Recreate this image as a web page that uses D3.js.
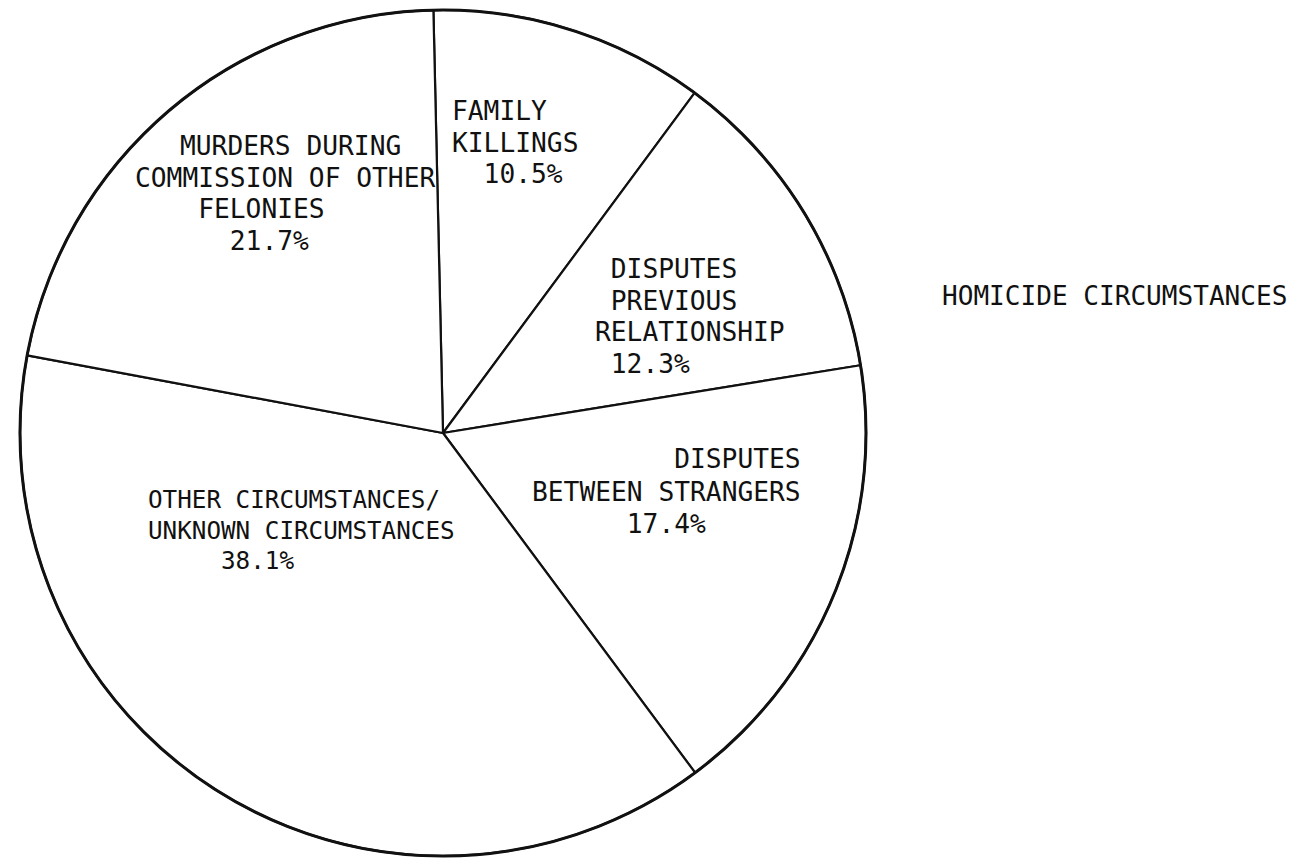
<!DOCTYPE html>
<html>
<head>
<meta charset="utf-8">
<script src="https://cdn.jsdelivr.net/npm/d3@7/dist/d3.min.js"></script>
<style>
    html, body { margin: 0; padding: 0; background: #fff; }
    #chart text { font-family: "DejaVu Sans Mono", "Liberation Mono", monospace; fill: #111; }
</style>
</head>
<body>
<div id="chart"></div>
<script>
// slices, clockwise from the top
var categories = [
    "FAMILY KILLINGS",
    "DISPUTES PREVIOUS RELATIONSHIP",
    "DISPUTES BETWEEN STRANGERS",
    "OTHER CIRCUMSTANCES/UNKNOWN CIRCUMSTANCES",
    "MURDERS DURING COMMISSION OF OTHER FELONIES"
];
var percents = [10.5, 12.3, 17.4, 38.1, 21.7];
var labelLines = [
    ["FAMILY", "KILLINGS"],
    ["DISPUTES", "PREVIOUS", "RELATIONSHIP"],
    ["DISPUTES", "BETWEEN STRANGERS"],
    ["OTHER CIRCUMSTANCES/", "UNKNOWN CIRCUMSTANCES"],
    ["MURDERS DURING", "COMMISSION OF OTHER", "FELONIES"]
];
var title = "HOMICIDE CIRCUMSTANCES";

function init() {
    var w = 1300, h = 859;
    var cx = 443, cy = 433, radius = 423;
    var monoAdv = 0.602; // advance of DejaVu Sans Mono, in em

    // where each label block sits (typewriter columns, line pitch)
    var labelLayout = [
        { x: 452, y: 120, adv: 15.8, lh: 31.5, indent: [0, 0, 2] },
        { x: 595, y: 278, adv: 15.8, lh: 31.7, indent: [1, 1, 0, 1] },
        { x: 532, y: 468, adv: 15.8, lh: 32.5, indent: [9, 0, 6] },
        { x: 148, y: 508, adv: 14.6, lh: 30.5, indent: [0, 0, 5] },
        { x: 135, y: 155, adv: 15.8, lh: 31.7, indent: [2.85, 0, 4, 6] }
    ];

    var svg = d3.select("#chart")
        .append("svg")
        .attr("width", w)
        .attr("height", h);

    var start = -1.3 * Math.PI / 180;
    var pie = d3.pie()
        .sort(null)
        .value(function (d) { return d; })
        .startAngle(start)
        .endAngle(start + 2 * Math.PI);

    var arc = d3.arc()
        .innerRadius(0)
        .outerRadius(radius);

    var g = svg.append("g")
        .attr("transform", "translate(" + cx + "," + cy + ")");

    g.selectAll("path")
        .data(pie(percents))
        .join("path")
        .attr("d", arc)
        .attr("fill", "#fff")
        .attr("stroke", "#111")
        .attr("stroke-width", 2.2)
        .attr("stroke-linejoin", "round");

    // outer rim drawn a bit heavier, like the original
    g.append("circle")
        .attr("r", radius)
        .attr("fill", "none")
        .attr("stroke", "#111")
        .attr("stroke-width", 3);

    // one text per label block, one tspan per typed line
    labelLines.forEach(function (lines, i) {
        var lay = labelLayout[i];
        var all = lines.concat([percents[i].toFixed(1) + "%"]);
        var t = svg.append("text")
            .attr("class", "slice-label")
            .attr("font-size", (lay.adv / monoAdv).toFixed(2));
        all.forEach(function (str, j) {
            t.append("tspan")
                .attr("x", lay.x + lay.indent[j] * lay.adv)
                .attr("y", lay.y + j * lay.lh)
                .text(str);
        });
    });

    svg.append("text")
        .attr("x", 942)
        .attr("y", 305)
        .attr("font-size", (15.7 / monoAdv).toFixed(2))
        .text(title);
}

window.onload = init;
</script>
</body>
</html>
